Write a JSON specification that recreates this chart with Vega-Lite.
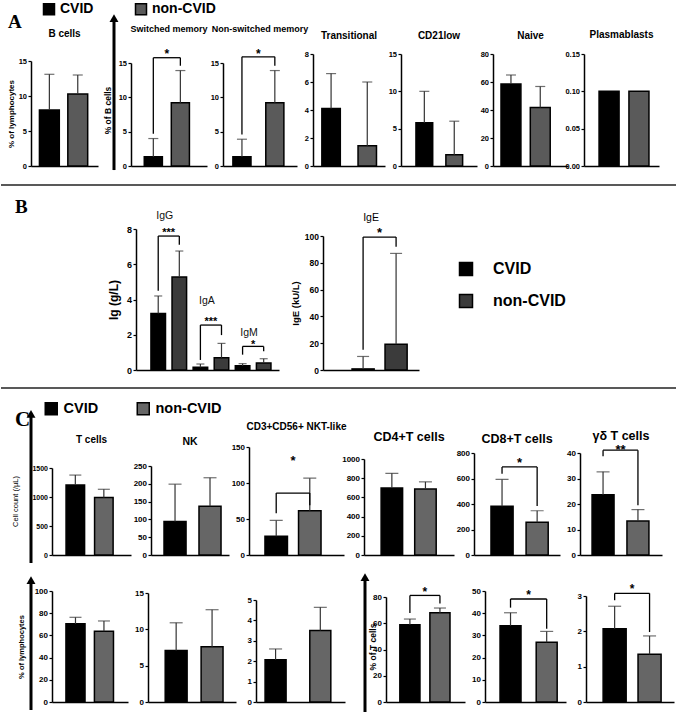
{
  "$schema": "https://vega.github.io/schema/vega-lite/v6.json",
  "padding": {"left": 0, "top": 2, "right": 0, "bottom": 0},
  "config": {
    "view": {"stroke": null},
    "font": "Liberation Sans",
    "axis": {"grid": false, "domainColor": "#000000", "domainWidth": 1.5, "tickColor": "#000000", "tickWidth": 1.2, "tickSize": 3, "labelColor": "#000000", "labelFont": "Liberation Sans", "labelFontWeight": "bold", "labelPadding": 1.5, "labelOverlap": false, "labelFlush": false, "labelBound": false, "titleColor": "#000000", "titleFont": "Liberation Sans", "titleFontWeight": "bold"},
    "axisX": {"labels": false, "ticks": false},
    "bar": {"stroke": "#000000", "strokeWidth": 1.5},
    "title": {"font": "Liberation Sans", "fontWeight": "bold", "color": "#000000", "baseline": "bottom", "frame": "group", "anchor": "middle"},
    "text": {"font": "Liberation Sans"}
  },
  "datasets": {
    "bars": [
      {"panel": "A1", "bar": "CVID", "group": "CVID", "mean": 8.0, "upper": 13.1},
      {"panel": "A1", "bar": "non-CVID", "group": "non-CVID", "mean": 10.3, "upper": 13.0},
      {"panel": "A2", "bar": "CVID", "group": "CVID", "mean": 1.35, "upper": 4.0},
      {"panel": "A2", "bar": "non-CVID", "group": "non-CVID", "mean": 9.2, "upper": 13.9},
      {"panel": "A3", "bar": "CVID", "group": "CVID", "mean": 1.35, "upper": 3.9},
      {"panel": "A3", "bar": "non-CVID", "group": "non-CVID", "mean": 9.2, "upper": 13.9},
      {"panel": "A4", "bar": "CVID", "group": "CVID", "mean": 4.1, "upper": 6.6},
      {"panel": "A4", "bar": "non-CVID", "group": "non-CVID", "mean": 1.45, "upper": 6.0},
      {"panel": "A5", "bar": "CVID", "group": "CVID", "mean": 5.8, "upper": 10.0},
      {"panel": "A5", "bar": "non-CVID", "group": "non-CVID", "mean": 1.5, "upper": 6.0},
      {"panel": "A6", "bar": "CVID", "group": "CVID", "mean": 58.5, "upper": 65.0},
      {"panel": "A6", "bar": "non-CVID", "group": "non-CVID", "mean": 41.8, "upper": 56.8},
      {"panel": "A7", "bar": "CVID", "group": "CVID", "mean": 0.1},
      {"panel": "A7", "bar": "non-CVID", "group": "non-CVID", "mean": 0.1},
      {"panel": "B1", "bar": "IgG CVID", "group": "CVID", "mean": 3.2, "upper": 4.2},
      {"panel": "B1", "bar": "IgG non-CVID", "group": "non-CVID", "mean": 5.27, "upper": 6.75},
      {"panel": "B1", "bar": "IgA CVID", "group": "CVID", "mean": 0.15, "upper": 0.34},
      {"panel": "B1", "bar": "IgA non-CVID", "group": "non-CVID", "mean": 0.7, "upper": 1.51},
      {"panel": "B1", "bar": "IgM CVID", "group": "CVID", "mean": 0.24, "upper": 0.36},
      {"panel": "B1", "bar": "IgM non-CVID", "group": "non-CVID", "mean": 0.4, "upper": 0.64},
      {"panel": "B2", "bar": "CVID", "group": "CVID", "mean": 0.8, "upper": 10.1},
      {"panel": "B2", "bar": "non-CVID", "group": "non-CVID", "mean": 19.2, "upper": 87},
      {"panel": "C1", "bar": "CVID", "group": "CVID", "mean": 1207, "upper": 1378},
      {"panel": "C1", "bar": "non-CVID", "group": "non-CVID", "mean": 990, "upper": 1133},
      {"panel": "C2", "bar": "CVID", "group": "CVID", "mean": 94, "upper": 199},
      {"panel": "C2", "bar": "non-CVID", "group": "non-CVID", "mean": 137, "upper": 217},
      {"panel": "C3", "bar": "CVID", "group": "CVID", "mean": 26, "upper": 48},
      {"panel": "C3", "bar": "non-CVID", "group": "non-CVID", "mean": 61.6, "upper": 106.7},
      {"panel": "C4", "bar": "CVID", "group": "CVID", "mean": 699, "upper": 851},
      {"panel": "C4", "bar": "non-CVID", "group": "non-CVID", "mean": 688, "upper": 762},
      {"panel": "C5", "bar": "CVID", "group": "CVID", "mean": 382, "upper": 593},
      {"panel": "C5", "bar": "non-CVID", "group": "non-CVID", "mean": 257, "upper": 347},
      {"panel": "C6", "bar": "CVID", "group": "CVID", "mean": 23.6, "upper": 32.6},
      {"panel": "C6", "bar": "non-CVID", "group": "non-CVID", "mean": 13.3, "upper": 17.8},
      {"panel": "D1", "bar": "CVID", "group": "CVID", "mean": 70.4, "upper": 76.3},
      {"panel": "D1", "bar": "non-CVID", "group": "non-CVID", "mean": 63.8, "upper": 73},
      {"panel": "D2", "bar": "CVID", "group": "CVID", "mean": 7.1, "upper": 10.9},
      {"panel": "D2", "bar": "non-CVID", "group": "non-CVID", "mean": 7.6, "upper": 12.7},
      {"panel": "D3", "bar": "CVID", "group": "CVID", "mean": 2.07, "upper": 2.6},
      {"panel": "D3", "bar": "non-CVID", "group": "non-CVID", "mean": 3.5, "upper": 4.64},
      {"panel": "D4", "bar": "CVID", "group": "CVID", "mean": 58.9, "upper": 63.2},
      {"panel": "D4", "bar": "non-CVID", "group": "non-CVID", "mean": 68, "upper": 71.6},
      {"panel": "D5", "bar": "CVID", "group": "CVID", "mean": 34.4, "upper": 40.2},
      {"panel": "D5", "bar": "non-CVID", "group": "non-CVID", "mean": 26.9, "upper": 31.8},
      {"panel": "D6", "bar": "CVID", "group": "CVID", "mean": 2.07, "upper": 2.71},
      {"panel": "D6", "bar": "non-CVID", "group": "non-CVID", "mean": 1.35, "upper": 1.87}
    ],
    "sig": [
      {"panel": "A2", "left": "CVID", "right": "non-CVID", "yb": 15.77, "yl": 4.7, "yr": 14.6, "ys": 16.8, "star": "*"},
      {"panel": "A3", "left": "CVID", "right": "non-CVID", "yb": 15.9, "yl": 4.6, "yr": 14.6, "ys": 16.8, "star": "*"},
      {"panel": "B1", "left": "IgG CVID", "right": "IgG non-CVID", "yb": 7.6, "yl": 4.5, "yr": 7.1, "ys": 7.96, "star": "***"},
      {"panel": "B1", "left": "IgA CVID", "right": "IgA non-CVID", "yb": 2.55, "yl": 0.57, "yr": 1.98, "ys": 2.89, "star": "***"},
      {"panel": "B1", "left": "IgM CVID", "right": "IgM non-CVID", "yb": 1.34, "yl": 0.87, "yr": 1.06, "ys": 1.59, "star": "*"},
      {"panel": "B2", "left": "CVID", "right": "non-CVID", "yb": 99.2, "yl": 15.2, "yr": 92, "ys": 104.8, "star": "*"},
      {"panel": "C3", "left": "CVID", "right": "non-CVID", "yb": 86, "yl": 58, "yr": 69, "ys": 135, "star": "*"},
      {"panel": "C5", "left": "CVID", "right": "non-CVID", "yb": 691, "yl": 637, "yr": 385, "ys": 745, "star": "*"},
      {"panel": "C6", "left": "CVID", "right": "non-CVID", "yb": 41.1, "yl": 38.7, "yr": 19.5, "ys": 42.5, "star": "**"},
      {"panel": "D4", "left": "CVID", "right": "non-CVID", "yb": 81.2, "yl": 67.8, "yr": 75, "ys": 86.3, "star": "*"},
      {"panel": "D5", "left": "CVID", "right": "non-CVID", "yb": 46.4, "yl": 42.5, "yr": 33, "ys": 49.5, "star": "*"},
      {"panel": "D6", "left": "CVID", "right": "non-CVID", "yb": 3.075, "yl": 2.88, "yr": 1.98, "ys": 3.29, "star": "*"}
    ],
    "iglab": [
      {"bar": "IgG CVID", "label": "IgG", "y": 8.73},
      {"bar": "IgA CVID", "label": "IgA", "y": 3.9},
      {"bar": "IgM CVID", "label": "IgM", "y": 2.1}
    ]
  },
  "spacing": 12,
  "resolve": {"scale": {"color": "independent"}},
  "vconcat": [
    {
      "hconcat": [
        {"width": 67, "height": 112, "title": {"text": "B cells", "fontSize": 10, "offset": 14.7},
         "layer": [
          {"data": {"name": "bars"}, "transform": [{"filter": "datum.panel === 'A1'"}],
           "encoding": {
             "x": {"field": "bar", "type": "nominal", "title": null, "scale": {"domain": ["CVID", "non-CVID"], "paddingInner": 0.3, "paddingOuter": 0.33, "align": 0.45}},
             "y": {"field": "mean", "type": "quantitative", "title": "% of lymphocytes", "scale": {"domain": [0, 15], "nice": false, "range": [112, 7]}, "axis": {"values": [0, 5, 10, 15], "labelOverlap": false, "labelFontSize": 7.5, "titleFontSize": 8, "titlePadding": 3}}},
           "layer": [
             {"mark": "bar", "encoding": {"color": {"field": "group", "type": "nominal", "scale": {"domain": ["CVID", "non-CVID"], "range": ["#000000", "#5a5a5a"]}, "legend": {"orient": "none", "legendX": -23, "legendY": -52, "direction": "horizontal", "columns": 2, "title": "A", "titleOrient": "left", "titleFont": "Liberation Serif", "titleFontSize": 19, "titleFontWeight": "bold", "titleColor": "#000000", "titlePadding": 20, "titleBaseline": "line-top", "titleLineHeight": 25, "labelFont": "Liberation Sans", "labelFontSize": 14, "labelFontWeight": "bold", "labelColor": "#000000", "labelOffset": 4, "columnPadding": 38, "symbolType": "square", "symbolSize": 121, "symbolStrokeColor": "#000000", "symbolStrokeWidth": 1}}}},
             {"mark": {"type": "rule", "color": "#333333", "strokeWidth": 1.2}, "encoding": {"y": {"field": "upper", "type": "quantitative", "title": "% of lymphocytes"}, "y2": {"field": "mean"}}},
             {"mark": {"type": "tick", "orient": "horizontal", "size": 10, "color": "#333333", "thickness": 1.2}, "encoding": {"y": {"field": "upper", "type": "quantitative", "title": "% of lymphocytes"}}}
           ]}
         ]},
        {"width": 1, "height": 112, "data": {"values": [{"k": 1}]},
         "encoding": {"x": {"datum": 0, "type": "quantitative", "scale": {"domain": [0, 1]}, "axis": null}},
         "layer": [
           {"mark": {"type": "rule", "color": "#000000", "strokeWidth": 3}, "encoding": {"y": {"datum": -0.036, "type": "quantitative", "scale": {"domain": [0, 1], "nice": false}, "axis": {"title": "% of B cells", "labels": false, "ticks": false, "domain": false, "titleFontSize": 8.5, "titlePadding": 2}}, "y2": {"datum": 1.32}}},
           {"mark": {"type": "point", "shape": "triangle-up", "filled": true, "color": "#000000", "size": 80, "opacity": 1}, "encoding": {"y": {"datum": 1.32, "type": "quantitative"}}}
         ]},
        {"width": 76, "height": 112, "title": {"text": "Switched memory", "fontSize": 9, "offset": 13.2},
         "layer": [
          {"data": {"name": "bars"}, "transform": [{"filter": "datum.panel === 'A2'"}],
           "encoding": {
             "x": {"field": "bar", "type": "nominal", "title": null, "scale": {"domain": ["CVID", "non-CVID"], "paddingInner": 0.33, "paddingOuter": 0.57, "align": 0.43}},
             "y": {"field": "mean", "type": "quantitative", "title": null, "scale": {"domain": [0, 15], "nice": false, "range": [112, 9]}, "axis": {"values": [0, 5, 10, 15], "labelOverlap": false, "labelFontSize": 7.5}}},
           "layer": [
             {"mark": "bar", "encoding": {"color": {"field": "group", "type": "nominal", "scale": {"domain": ["CVID", "non-CVID"], "range": ["#000000", "#5a5a5a"]}, "legend": {"orient": "none", "legendX": -23, "legendY": -52, "direction": "horizontal", "columns": 2, "title": "A", "titleOrient": "left", "titleFont": "Liberation Serif", "titleFontSize": 19, "titleFontWeight": "bold", "titleColor": "#000000", "titlePadding": 20, "titleBaseline": "line-top", "titleLineHeight": 25, "labelFont": "Liberation Sans", "labelFontSize": 14, "labelFontWeight": "bold", "labelColor": "#000000", "labelOffset": 4, "columnPadding": 38, "symbolType": "square", "symbolSize": 121, "symbolStrokeColor": "#000000", "symbolStrokeWidth": 1}}}},
             {"mark": {"type": "rule", "color": "#333333", "strokeWidth": 1.2}, "encoding": {"y": {"field": "upper", "type": "quantitative", "title": null}, "y2": {"field": "mean"}}},
             {"mark": {"type": "tick", "orient": "horizontal", "size": 10, "color": "#333333", "thickness": 1.2}, "encoding": {"y": {"field": "upper", "type": "quantitative", "title": null}}}
           ]},
          {"data": {"name": "sig"}, "transform": [{"filter": "datum.panel === 'A2'"}],
           "encoding": {"x": {"field": "left", "type": "nominal", "title": null}},
           "layer": [
             {"mark": {"type": "rule", "color": "#000000", "strokeWidth": 1.3}, "encoding": {"x2": {"field": "right"}, "y": {"field": "yb", "type": "quantitative", "title": null, "axis": {"values": [0, 5, 10, 15], "labelOverlap": false, "labelFontSize": 7.5}}}},
             {"mark": {"type": "rule", "color": "#000000", "strokeWidth": 1.3}, "encoding": {"y": {"field": "yl", "type": "quantitative", "title": null, "axis": {"values": [0, 5, 10, 15], "labelOverlap": false, "labelFontSize": 7.5}}, "y2": {"field": "yb"}}},
             {"mark": {"type": "rule", "color": "#000000", "strokeWidth": 1.3}, "encoding": {"x": {"field": "right", "type": "nominal", "title": null}, "y": {"field": "yr", "type": "quantitative", "title": null, "axis": {"values": [0, 5, 10, 15], "labelOverlap": false, "labelFontSize": 7.5}}, "y2": {"field": "yb"}}},
             {"mark": {"type": "text", "fontSize": 12, "fontWeight": "bold", "dx": 13.5, "dy": 3, "baseline": "middle", "color": "#000000"}, "encoding": {"y": {"field": "ys", "type": "quantitative", "title": null, "axis": {"values": [0, 5, 10, 15], "labelOverlap": false, "labelFontSize": 7.5}}, "text": {"field": "star"}}}
           ]}
         ]},
        {"width": 74, "height": 112, "title": {"text": "Non-switched memory", "fontSize": 9, "offset": 13.2},
         "layer": [
          {"data": {"name": "bars"}, "transform": [{"filter": "datum.panel === 'A3'"}],
           "encoding": {
             "x": {"field": "bar", "type": "nominal", "title": null, "scale": {"domain": ["CVID", "non-CVID"], "paddingInner": 0.45, "paddingOuter": 0.35, "align": 0.43}},
             "y": {"field": "mean", "type": "quantitative", "title": null, "scale": {"domain": [0, 15], "nice": false, "range": [112, 9]}, "axis": {"values": [0, 5, 10, 15], "labelOverlap": false, "labelFontSize": 7.5}}},
           "layer": [
             {"mark": "bar", "encoding": {"color": {"field": "group", "type": "nominal", "scale": {"domain": ["CVID", "non-CVID"], "range": ["#000000", "#5a5a5a"]}, "legend": {"orient": "none", "legendX": -23, "legendY": -52, "direction": "horizontal", "columns": 2, "title": "A", "titleOrient": "left", "titleFont": "Liberation Serif", "titleFontSize": 19, "titleFontWeight": "bold", "titleColor": "#000000", "titlePadding": 20, "titleBaseline": "line-top", "titleLineHeight": 25, "labelFont": "Liberation Sans", "labelFontSize": 14, "labelFontWeight": "bold", "labelColor": "#000000", "labelOffset": 4, "columnPadding": 38, "symbolType": "square", "symbolSize": 121, "symbolStrokeColor": "#000000", "symbolStrokeWidth": 1}}}},
             {"mark": {"type": "rule", "color": "#333333", "strokeWidth": 1.2}, "encoding": {"y": {"field": "upper", "type": "quantitative", "title": null}, "y2": {"field": "mean"}}},
             {"mark": {"type": "tick", "orient": "horizontal", "size": 10, "color": "#333333", "thickness": 1.2}, "encoding": {"y": {"field": "upper", "type": "quantitative", "title": null}}}
           ]},
          {"data": {"name": "sig"}, "transform": [{"filter": "datum.panel === 'A3'"}],
           "encoding": {"x": {"field": "left", "type": "nominal", "title": null}},
           "layer": [
             {"mark": {"type": "rule", "color": "#000000", "strokeWidth": 1.3}, "encoding": {"x2": {"field": "right"}, "y": {"field": "yb", "type": "quantitative", "title": null, "axis": {"values": [0, 5, 10, 15], "labelOverlap": false, "labelFontSize": 7.5}}}},
             {"mark": {"type": "rule", "color": "#000000", "strokeWidth": 1.3}, "encoding": {"y": {"field": "yl", "type": "quantitative", "title": null, "axis": {"values": [0, 5, 10, 15], "labelOverlap": false, "labelFontSize": 7.5}}, "y2": {"field": "yb"}}},
             {"mark": {"type": "rule", "color": "#000000", "strokeWidth": 1.3}, "encoding": {"x": {"field": "right", "type": "nominal", "title": null}, "y": {"field": "yr", "type": "quantitative", "title": null, "axis": {"values": [0, 5, 10, 15], "labelOverlap": false, "labelFontSize": 7.5}}, "y2": {"field": "yb"}}},
             {"mark": {"type": "text", "fontSize": 12, "fontWeight": "bold", "dx": 16.5, "dy": 3, "baseline": "middle", "color": "#000000"}, "encoding": {"y": {"field": "ys", "type": "quantitative", "title": null, "axis": {"values": [0, 5, 10, 15], "labelOverlap": false, "labelFontSize": 7.5}}, "text": {"field": "star"}}}
           ]}
         ]},
        {"width": 72, "height": 112, "title": {"text": "Transitional", "fontSize": 10, "offset": 9},
         "layer": [
          {"data": {"name": "bars"}, "transform": [{"filter": "datum.panel === 'A4'"}],
           "encoding": {
             "x": {"field": "bar", "type": "nominal", "title": null, "scale": {"domain": ["CVID", "non-CVID"], "paddingInner": 0.49, "paddingOuter": 0.24, "align": 0.51}},
             "y": {"field": "mean", "type": "quantitative", "title": null, "scale": {"domain": [0, 8], "nice": false, "range": [112, 0]}, "axis": {"values": [0, 2, 4, 6, 8], "labelOverlap": false, "labelFontSize": 7.5}}},
           "layer": [
             {"mark": "bar", "encoding": {"color": {"field": "group", "type": "nominal", "scale": {"domain": ["CVID", "non-CVID"], "range": ["#000000", "#5a5a5a"]}, "legend": {"orient": "none", "legendX": -23, "legendY": -52, "direction": "horizontal", "columns": 2, "title": "A", "titleOrient": "left", "titleFont": "Liberation Serif", "titleFontSize": 19, "titleFontWeight": "bold", "titleColor": "#000000", "titlePadding": 20, "titleBaseline": "line-top", "titleLineHeight": 25, "labelFont": "Liberation Sans", "labelFontSize": 14, "labelFontWeight": "bold", "labelColor": "#000000", "labelOffset": 4, "columnPadding": 38, "symbolType": "square", "symbolSize": 121, "symbolStrokeColor": "#000000", "symbolStrokeWidth": 1}}}},
             {"mark": {"type": "rule", "color": "#333333", "strokeWidth": 1.2}, "encoding": {"y": {"field": "upper", "type": "quantitative", "title": null}, "y2": {"field": "mean"}}},
             {"mark": {"type": "tick", "orient": "horizontal", "size": 10, "color": "#333333", "thickness": 1.2}, "encoding": {"y": {"field": "upper", "type": "quantitative", "title": null}}}
           ]}
         ]},
        {"width": 76, "height": 112, "title": {"text": "CD21low", "fontSize": 10, "offset": 9},
         "layer": [
          {"data": {"name": "bars"}, "transform": [{"filter": "datum.panel === 'A5'"}],
           "encoding": {
             "x": {"field": "bar", "type": "nominal", "title": null, "scale": {"domain": ["CVID", "non-CVID"], "paddingInner": 0.44, "paddingOuter": 0.49, "align": 0.51}},
             "y": {"field": "mean", "type": "quantitative", "title": null, "scale": {"domain": [0, 15], "nice": false, "range": [112, 0]}, "axis": {"values": [0, 5, 10, 15], "labelOverlap": false, "labelFontSize": 7.5}}},
           "layer": [
             {"mark": "bar", "encoding": {"color": {"field": "group", "type": "nominal", "scale": {"domain": ["CVID", "non-CVID"], "range": ["#000000", "#5a5a5a"]}, "legend": {"orient": "none", "legendX": -23, "legendY": -52, "direction": "horizontal", "columns": 2, "title": "A", "titleOrient": "left", "titleFont": "Liberation Serif", "titleFontSize": 19, "titleFontWeight": "bold", "titleColor": "#000000", "titlePadding": 20, "titleBaseline": "line-top", "titleLineHeight": 25, "labelFont": "Liberation Sans", "labelFontSize": 14, "labelFontWeight": "bold", "labelColor": "#000000", "labelOffset": 4, "columnPadding": 38, "symbolType": "square", "symbolSize": 121, "symbolStrokeColor": "#000000", "symbolStrokeWidth": 1}}}},
             {"mark": {"type": "rule", "color": "#333333", "strokeWidth": 1.2}, "encoding": {"y": {"field": "upper", "type": "quantitative", "title": null}, "y2": {"field": "mean"}}},
             {"mark": {"type": "tick", "orient": "horizontal", "size": 10, "color": "#333333", "thickness": 1.2}, "encoding": {"y": {"field": "upper", "type": "quantitative", "title": null}}}
           ]}
         ]},
        {"width": 75, "height": 112, "title": {"text": "Naive", "fontSize": 10, "offset": 9},
         "layer": [
          {"data": {"name": "bars"}, "transform": [{"filter": "datum.panel === 'A6'"}],
           "encoding": {
             "x": {"field": "bar", "type": "nominal", "title": null, "scale": {"domain": ["CVID", "non-CVID"], "paddingInner": 0.32, "paddingOuter": 0.44, "align": 0.31}},
             "y": {"field": "mean", "type": "quantitative", "title": null, "scale": {"domain": [0, 80], "nice": false, "range": [112, 0]}, "axis": {"values": [0, 20, 40, 60, 80], "labelOverlap": false, "labelFontSize": 7.5}}},
           "layer": [
             {"mark": "bar", "encoding": {"color": {"field": "group", "type": "nominal", "scale": {"domain": ["CVID", "non-CVID"], "range": ["#000000", "#5a5a5a"]}, "legend": {"orient": "none", "legendX": -23, "legendY": -52, "direction": "horizontal", "columns": 2, "title": "A", "titleOrient": "left", "titleFont": "Liberation Serif", "titleFontSize": 19, "titleFontWeight": "bold", "titleColor": "#000000", "titlePadding": 20, "titleBaseline": "line-top", "titleLineHeight": 25, "labelFont": "Liberation Sans", "labelFontSize": 14, "labelFontWeight": "bold", "labelColor": "#000000", "labelOffset": 4, "columnPadding": 38, "symbolType": "square", "symbolSize": 121, "symbolStrokeColor": "#000000", "symbolStrokeWidth": 1}}}},
             {"mark": {"type": "rule", "color": "#333333", "strokeWidth": 1.2}, "encoding": {"y": {"field": "upper", "type": "quantitative", "title": null}, "y2": {"field": "mean"}}},
             {"mark": {"type": "tick", "orient": "horizontal", "size": 10, "color": "#333333", "thickness": 1.2}, "encoding": {"y": {"field": "upper", "type": "quantitative", "title": null}}}
           ]}
         ]},
        {"width": 75, "height": 112, "title": {"text": "Plasmablasts", "fontSize": 10, "offset": 10},
         "layer": [
          {"data": {"name": "bars"}, "transform": [{"filter": "datum.panel === 'A7'"}],
           "encoding": {
             "x": {"field": "bar", "type": "nominal", "title": null, "scale": {"domain": ["CVID", "non-CVID"], "paddingInner": 0.33, "paddingOuter": 0.42, "align": 0.6}},
             "y": {"field": "mean", "type": "quantitative", "title": null, "scale": {"domain": [0, 0.15], "nice": false, "range": [112, 0]}, "axis": {"values": [0, 0.05, 0.1, 0.15], "labelOverlap": false, "format": ".2f", "labelFontSize": 7.5}}},
           "layer": [
             {"mark": "bar", "encoding": {"color": {"field": "group", "type": "nominal", "scale": {"domain": ["CVID", "non-CVID"], "range": ["#000000", "#5a5a5a"]}, "legend": {"orient": "none", "legendX": -23, "legendY": -52, "direction": "horizontal", "columns": 2, "title": "A", "titleOrient": "left", "titleFont": "Liberation Serif", "titleFontSize": 19, "titleFontWeight": "bold", "titleColor": "#000000", "titlePadding": 20, "titleBaseline": "line-top", "titleLineHeight": 25, "labelFont": "Liberation Sans", "labelFontSize": 14, "labelFontWeight": "bold", "labelColor": "#000000", "labelOffset": 4, "columnPadding": 38, "symbolType": "square", "symbolSize": 121, "symbolStrokeColor": "#000000", "symbolStrokeWidth": 1}}}}
           ]}
         ]}
      ],
      "spacing": 16,
      "bounds": "flush",
      "resolve": {"scale": {"color": "shared"}}
    },
    {"width": 646, "height": 1, "data": {"values": [{"k": 1}]}, "mark": {"type": "rule", "color": "#222222", "strokeWidth": 1.5},
     "encoding": {"x": {"datum": -0.0465, "type": "quantitative", "scale": {"domain": [0, 1], "nice": false, "zero": false}, "axis": null}, "x2": {"datum": 1}, "y": {"datum": 0, "type": "quantitative", "scale": {"domain": [0, 1]}, "axis": null}}},
    {
      "title": {"text": "B", "font": "Liberation Serif", "fontSize": 19, "fontWeight": "bold", "anchor": "start", "offset": -6, "dx": -16},
      "hconcat": [
        {"width": 61, "height": 1, "data": {"values": []}, "mark": "point"},
        {"width": 143, "height": 141,
         "layer": [
          {"data": {"name": "bars"}, "transform": [{"filter": "datum.panel === 'B1'"}],
           "encoding": {
             "x": {"field": "bar", "type": "nominal", "title": null, "scale": {"domain": ["IgG CVID", "IgG non-CVID", "IgA CVID", "IgA non-CVID", "IgM CVID", "IgM non-CVID"], "paddingInner": 0.31, "paddingOuter": 0.545, "align": 0.65}},
             "y": {"field": "mean", "type": "quantitative", "title": "Ig (g/L)", "scale": {"domain": [0, 8], "nice": false, "range": [141, 0]}, "axis": {"values": [0, 2, 4, 6, 8], "labelOverlap": false, "labelFontSize": 9, "titleFontSize": 12, "titlePadding": 6}}},
           "layer": [
             {"mark": "bar", "encoding": {"color": {"field": "group", "type": "nominal", "scale": {"domain": ["CVID", "non-CVID"], "range": ["#000000", "#3b3b3b"]}, "legend": {"orient": "none", "legendX": 427, "legendY": 32, "direction": "vertical", "title": null, "labelFont": "Liberation Sans", "labelFontSize": 16, "labelFontWeight": "bold", "labelColor": "#000000", "labelOffset": 19, "rowPadding": 12, "symbolType": "square", "symbolSize": 169, "symbolStrokeColor": "#000000", "symbolStrokeWidth": 1}}}},
             {"mark": {"type": "rule", "color": "#333333", "strokeWidth": 1.2}, "encoding": {"y": {"field": "upper", "type": "quantitative", "title": "Ig (g/L)"}, "y2": {"field": "mean"}}},
             {"mark": {"type": "tick", "orient": "horizontal", "size": 8, "color": "#333333", "thickness": 1.2}, "encoding": {"y": {"field": "upper", "type": "quantitative", "title": "Ig (g/L)"}}}
           ]},
          {"data": {"name": "sig"}, "transform": [{"filter": "datum.panel === 'B1'"}],
           "encoding": {"x": {"field": "left", "type": "nominal", "title": null}},
           "layer": [
             {"mark": {"type": "rule", "color": "#000000", "strokeWidth": 1.3}, "encoding": {"x2": {"field": "right"}, "y": {"field": "yb", "type": "quantitative", "title": "Ig (g/L)", "axis": {"values": [0, 2, 4, 6, 8], "labelOverlap": false, "labelFontSize": 9, "titleFontSize": 12, "titlePadding": 6}}}},
             {"mark": {"type": "rule", "color": "#000000", "strokeWidth": 1.3}, "encoding": {"y": {"field": "yl", "type": "quantitative", "title": "Ig (g/L)", "axis": {"values": [0, 2, 4, 6, 8], "labelOverlap": false, "labelFontSize": 9, "titleFontSize": 12, "titlePadding": 6}}, "y2": {"field": "yb"}}},
             {"mark": {"type": "rule", "color": "#000000", "strokeWidth": 1.3}, "encoding": {"x": {"field": "right", "type": "nominal", "title": null}, "y": {"field": "yr", "type": "quantitative", "title": "Ig (g/L)", "axis": {"values": [0, 2, 4, 6, 8], "labelOverlap": false, "labelFontSize": 9, "titleFontSize": 12, "titlePadding": 6}}, "y2": {"field": "yb"}}},
             {"mark": {"type": "text", "fontSize": 11, "fontWeight": "bold", "dx": 10.5, "dy": 3, "baseline": "middle", "color": "#000000"}, "encoding": {"y": {"field": "ys", "type": "quantitative", "title": "Ig (g/L)", "axis": {"values": [0, 2, 4, 6, 8], "labelOverlap": false, "labelFontSize": 9, "titleFontSize": 12, "titlePadding": 6}}, "text": {"field": "star"}}}
           ]},
          {"data": {"name": "iglab"},
           "mark": {"type": "text", "fontSize": 10.5, "dx": 6.5, "baseline": "middle", "color": "#111111"},
           "encoding": {"x": {"field": "bar", "type": "nominal", "title": null}, "y": {"field": "y", "type": "quantitative", "title": "Ig (g/L)", "axis": {"values": [0, 2, 4, 6, 8], "labelOverlap": false, "labelFontSize": 9, "titleFontSize": 12, "titlePadding": 6}}, "text": {"field": "label"}}}
         ]},
        {"width": 96, "height": 141, "title": {"text": "IgE", "fontSize": 10.5, "fontWeight": "normal", "offset": 3.2},
         "layer": [
          {"data": {"name": "bars"}, "transform": [{"filter": "datum.panel === 'B2'"}],
           "encoding": {
             "x": {"field": "bar", "type": "nominal", "title": null, "scale": {"domain": ["CVID", "non-CVID"], "paddingInner": 0.33, "paddingOuter": 0.62, "align": 0.71}},
             "y": {"field": "mean", "type": "quantitative", "title": "IgE (kU/L)", "scale": {"domain": [0, 100], "nice": false, "range": [141, 7]}, "axis": {"values": [0, 20, 40, 60, 80, 100], "labelOverlap": false, "labelFontSize": 8.5, "titleFontSize": 9.5, "titlePadding": 4}}},
           "layer": [
             {"mark": "bar", "encoding": {"color": {"field": "group", "type": "nominal", "scale": {"domain": ["CVID", "non-CVID"], "range": ["#000000", "#3b3b3b"]}, "legend": {"orient": "none", "legendX": 427, "legendY": 32, "direction": "vertical", "title": null, "labelFont": "Liberation Sans", "labelFontSize": 16, "labelFontWeight": "bold", "labelColor": "#000000", "labelOffset": 19, "rowPadding": 12, "symbolType": "square", "symbolSize": 169, "symbolStrokeColor": "#000000", "symbolStrokeWidth": 1}}}},
             {"mark": {"type": "rule", "color": "#333333", "strokeWidth": 1.2}, "encoding": {"y": {"field": "upper", "type": "quantitative", "title": "IgE (kU/L)"}, "y2": {"field": "mean"}}},
             {"mark": {"type": "tick", "orient": "horizontal", "size": 12, "color": "#333333", "thickness": 1.2}, "encoding": {"y": {"field": "upper", "type": "quantitative", "title": "IgE (kU/L)"}}}
           ]},
          {"data": {"name": "sig"}, "transform": [{"filter": "datum.panel === 'B2'"}],
           "encoding": {"x": {"field": "left", "type": "nominal", "title": null}},
           "layer": [
             {"mark": {"type": "rule", "color": "#000000", "strokeWidth": 1.3}, "encoding": {"x2": {"field": "right"}, "y": {"field": "yb", "type": "quantitative", "title": "IgE (kU/L)", "axis": {"values": [0, 20, 40, 60, 80, 100], "labelOverlap": false, "labelFontSize": 8.5, "titleFontSize": 9.5, "titlePadding": 4}}}},
             {"mark": {"type": "rule", "color": "#000000", "strokeWidth": 1.3}, "encoding": {"y": {"field": "yl", "type": "quantitative", "title": "IgE (kU/L)", "axis": {"values": [0, 20, 40, 60, 80, 100], "labelOverlap": false, "labelFontSize": 8.5, "titleFontSize": 9.5, "titlePadding": 4}}, "y2": {"field": "yb"}}},
             {"mark": {"type": "rule", "color": "#000000", "strokeWidth": 1.3}, "encoding": {"x": {"field": "right", "type": "nominal", "title": null}, "y": {"field": "yr", "type": "quantitative", "title": "IgE (kU/L)", "axis": {"values": [0, 20, 40, 60, 80, 100], "labelOverlap": false, "labelFontSize": 8.5, "titleFontSize": 9.5, "titlePadding": 4}}, "y2": {"field": "yb"}}},
             {"mark": {"type": "text", "fontSize": 13, "fontWeight": "bold", "dx": 16.5, "dy": 3, "baseline": "middle", "color": "#000000"}, "encoding": {"y": {"field": "ys", "type": "quantitative", "title": "IgE (kU/L)", "axis": {"values": [0, 20, 40, 60, 80, 100], "labelOverlap": false, "labelFontSize": 8.5, "titleFontSize": 9.5, "titlePadding": 4}}, "text": {"field": "star"}}}
           ]}
         ]}
      ],
      "spacing": 44,
      "bounds": "flush",
      "resolve": {"scale": {"color": "shared"}}
    },
    {"width": 646, "height": 1, "data": {"values": [{"k": 1}]}, "mark": {"type": "rule", "color": "#222222", "strokeWidth": 1.5},
     "encoding": {"x": {"datum": -0.0465, "type": "quantitative", "scale": {"domain": [0, 1], "nice": false, "zero": false}, "axis": null}, "x2": {"datum": 1}, "y": {"datum": 0, "type": "quantitative", "scale": {"domain": [0, 1]}, "axis": null}}},
    {
      "spacing": 8,
      "resolve": {"scale": {"color": "shared"}},
      "vconcat": [
        {
          "spacing": 20,
          "bounds": "flush",
          "hconcat": [
            {"width": 1, "height": 108, "data": {"values": [{"k": 1}]},
             "encoding": {"x": {"datum": 0, "type": "quantitative", "scale": {"domain": [0, 1]}, "axis": null}},
             "layer": [
               {"mark": {"type": "rule", "color": "#000000", "strokeWidth": 3}, "encoding": {"y": {"datum": -0.074, "type": "quantitative", "scale": {"domain": [0, 1], "nice": false}, "axis": {"title": "Cell count (/µL)", "labels": false, "ticks": false, "domain": false, "titleFontSize": 7.5, "titleFontWeight": "normal", "titlePadding": 12}}, "y2": {"datum": 1.306}}},
               {"mark": {"type": "point", "shape": "triangle-up", "filled": true, "color": "#000000", "size": 80, "opacity": 1}, "encoding": {"y": {"datum": 1.306, "type": "quantitative"}}}
             ]},
            {"width": 79, "height": 108, "title": {"text": "T cells", "fontSize": 10, "offset": 1.7},
             "layer": [
              {"data": {"name": "bars"}, "transform": [{"filter": "datum.panel === 'C1'"}],
               "encoding": {
                 "x": {"field": "bar", "type": "nominal", "title": null, "scale": {"domain": ["CVID", "non-CVID"], "paddingInner": 0.35, "paddingOuter": 0.56, "align": 0.44}},
                 "y": {"field": "mean", "type": "quantitative", "title": null, "scale": {"domain": [0, 1500], "nice": false, "range": [108, 21]}, "axis": {"values": [0, 500, 1000, 1500], "labelOverlap": false, "format": "d", "labelFontSize": 7}}},
               "layer": [
                 {"mark": "bar", "encoding": {"color": {"field": "group", "type": "nominal", "scale": {"domain": ["CVID", "non-CVID"], "range": ["#000000", "#666666"]}, "legend": {"orient": "none", "legendX": -16, "legendY": -46, "direction": "horizontal", "columns": 2, "title": "C", "titleOrient": "left", "titleFont": "Liberation Serif", "titleFontSize": 21, "titleFontWeight": "bold", "titleColor": "#000000", "titlePadding": 13, "titleBaseline": "line-top", "titleLineHeight": 21, "labelFont": "Liberation Sans", "labelFontSize": 14.5, "labelFontWeight": "bold", "labelColor": "#000000", "labelOffset": 5, "columnPadding": 35, "symbolType": "square", "symbolSize": 144, "symbolStrokeColor": "#000000", "symbolStrokeWidth": 1}}}},
                 {"mark": {"type": "rule", "color": "#333333", "strokeWidth": 1.2}, "encoding": {"y": {"field": "upper", "type": "quantitative", "title": null}, "y2": {"field": "mean"}}},
                 {"mark": {"type": "tick", "orient": "horizontal", "size": 12, "color": "#333333", "thickness": 1.2}, "encoding": {"y": {"field": "upper", "type": "quantitative", "title": null}}}
               ]}
             ]},
            {"width": 78, "height": 108, "title": {"text": "NK", "fontSize": 10.5, "offset": 0},
             "layer": [
              {"data": {"name": "bars"}, "transform": [{"filter": "datum.panel === 'C2'"}],
               "encoding": {
                 "x": {"field": "bar", "type": "nominal", "title": null, "scale": {"domain": ["CVID", "non-CVID"], "paddingInner": 0.37, "paddingOuter": 0.3, "align": 0.62}},
                 "y": {"field": "mean", "type": "quantitative", "title": null, "scale": {"domain": [0, 250], "nice": false, "range": [108, 19]}, "axis": {"values": [0, 50, 100, 150, 200, 250], "labelOverlap": false, "labelFontSize": 8}}},
               "layer": [
                 {"mark": "bar", "encoding": {"color": {"field": "group", "type": "nominal", "scale": {"domain": ["CVID", "non-CVID"], "range": ["#000000", "#666666"]}, "legend": {"orient": "none", "legendX": -16, "legendY": -46, "direction": "horizontal", "columns": 2, "title": "C", "titleOrient": "left", "titleFont": "Liberation Serif", "titleFontSize": 21, "titleFontWeight": "bold", "titleColor": "#000000", "titlePadding": 13, "titleBaseline": "line-top", "titleLineHeight": 21, "labelFont": "Liberation Sans", "labelFontSize": 14.5, "labelFontWeight": "bold", "labelColor": "#000000", "labelOffset": 5, "columnPadding": 35, "symbolType": "square", "symbolSize": 144, "symbolStrokeColor": "#000000", "symbolStrokeWidth": 1}}}},
                 {"mark": {"type": "rule", "color": "#333333", "strokeWidth": 1.2}, "encoding": {"y": {"field": "upper", "type": "quantitative", "title": null}, "y2": {"field": "mean"}}},
                 {"mark": {"type": "tick", "orient": "horizontal", "size": 13, "color": "#333333", "thickness": 1.2}, "encoding": {"y": {"field": "upper", "type": "quantitative", "title": null}}}
               ]}
             ]},
            {"width": 95, "height": 108, "title": {"text": "CD3+CD56+ NKT-like", "fontSize": 10, "offset": 10.7},
             "layer": [
              {"data": {"name": "bars"}, "transform": [{"filter": "datum.panel === 'C3'"}],
               "encoding": {
                 "x": {"field": "bar", "type": "nominal", "title": null, "scale": {"domain": ["CVID", "non-CVID"], "paddingInner": 0.33, "paddingOuter": 0.58, "align": 0.41}},
                 "y": {"field": "mean", "type": "quantitative", "title": null, "scale": {"domain": [0, 150], "nice": false, "range": [108, 0]}, "axis": {"values": [0, 50, 100, 150], "labelOverlap": false, "labelFontSize": 8}}},
               "layer": [
                 {"mark": "bar", "encoding": {"color": {"field": "group", "type": "nominal", "scale": {"domain": ["CVID", "non-CVID"], "range": ["#000000", "#666666"]}, "legend": {"orient": "none", "legendX": -16, "legendY": -46, "direction": "horizontal", "columns": 2, "title": "C", "titleOrient": "left", "titleFont": "Liberation Serif", "titleFontSize": 21, "titleFontWeight": "bold", "titleColor": "#000000", "titlePadding": 13, "titleBaseline": "line-top", "titleLineHeight": 21, "labelFont": "Liberation Sans", "labelFontSize": 14.5, "labelFontWeight": "bold", "labelColor": "#000000", "labelOffset": 5, "columnPadding": 35, "symbolType": "square", "symbolSize": 144, "symbolStrokeColor": "#000000", "symbolStrokeWidth": 1}}}},
                 {"mark": {"type": "rule", "color": "#333333", "strokeWidth": 1.2}, "encoding": {"y": {"field": "upper", "type": "quantitative", "title": null}, "y2": {"field": "mean"}}},
                 {"mark": {"type": "tick", "orient": "horizontal", "size": 13, "color": "#333333", "thickness": 1.2}, "encoding": {"y": {"field": "upper", "type": "quantitative", "title": null}}}
               ]},
              {"data": {"name": "sig"}, "transform": [{"filter": "datum.panel === 'C3'"}],
               "encoding": {"x": {"field": "left", "type": "nominal", "title": null}},
               "layer": [
                 {"mark": {"type": "rule", "color": "#000000", "strokeWidth": 1.3}, "encoding": {"x2": {"field": "right"}, "y": {"field": "yb", "type": "quantitative", "title": null, "axis": {"values": [0, 50, 100, 150], "labelOverlap": false, "labelFontSize": 8}}}},
                 {"mark": {"type": "rule", "color": "#000000", "strokeWidth": 1.3}, "encoding": {"y": {"field": "yl", "type": "quantitative", "title": null, "axis": {"values": [0, 50, 100, 150], "labelOverlap": false, "labelFontSize": 8}}, "y2": {"field": "yb"}}},
                 {"mark": {"type": "rule", "color": "#000000", "strokeWidth": 1.3}, "encoding": {"x": {"field": "right", "type": "nominal", "title": null}, "y": {"field": "yr", "type": "quantitative", "title": null, "axis": {"values": [0, 50, 100, 150], "labelOverlap": false, "labelFontSize": 8}}, "y2": {"field": "yb"}}},
                 {"mark": {"type": "text", "fontSize": 13, "fontWeight": "bold", "dx": 16.8, "dy": 3, "baseline": "middle", "color": "#000000"}, "encoding": {"y": {"field": "ys", "type": "quantitative", "title": null, "axis": {"values": [0, 50, 100, 150], "labelOverlap": false, "labelFontSize": 8}}, "text": {"field": "star"}}}
               ]}
             ]},
            {"width": 90, "height": 108, "title": {"text": "CD4+T cells", "fontSize": 12.5, "offset": 3.4},
             "layer": [
              {"data": {"name": "bars"}, "transform": [{"filter": "datum.panel === 'C4'"}],
               "encoding": {
                 "x": {"field": "bar", "type": "nominal", "title": null, "scale": {"domain": ["CVID", "non-CVID"], "paddingInner": 0.36, "paddingOuter": 0.52, "align": 0.49}},
                 "y": {"field": "mean", "type": "quantitative", "title": null, "scale": {"domain": [0, 1000], "nice": false, "range": [108, 12]}, "axis": {"values": [0, 200, 400, 600, 800, 1000], "labelOverlap": false, "format": "d", "labelFontSize": 8}}},
               "layer": [
                 {"mark": "bar", "encoding": {"color": {"field": "group", "type": "nominal", "scale": {"domain": ["CVID", "non-CVID"], "range": ["#000000", "#666666"]}, "legend": {"orient": "none", "legendX": -16, "legendY": -46, "direction": "horizontal", "columns": 2, "title": "C", "titleOrient": "left", "titleFont": "Liberation Serif", "titleFontSize": 21, "titleFontWeight": "bold", "titleColor": "#000000", "titlePadding": 13, "titleBaseline": "line-top", "titleLineHeight": 21, "labelFont": "Liberation Sans", "labelFontSize": 14.5, "labelFontWeight": "bold", "labelColor": "#000000", "labelOffset": 5, "columnPadding": 35, "symbolType": "square", "symbolSize": 144, "symbolStrokeColor": "#000000", "symbolStrokeWidth": 1}}}},
                 {"mark": {"type": "rule", "color": "#333333", "strokeWidth": 1.2}, "encoding": {"y": {"field": "upper", "type": "quantitative", "title": null}, "y2": {"field": "mean"}}},
                 {"mark": {"type": "tick", "orient": "horizontal", "size": 13, "color": "#333333", "thickness": 1.2}, "encoding": {"y": {"field": "upper", "type": "quantitative", "title": null}}}
               ]}
             ]},
            {"width": 86, "height": 108, "title": {"text": "CD8+T cells", "fontSize": 12.5, "offset": 1.4},
             "layer": [
              {"data": {"name": "bars"}, "transform": [{"filter": "datum.panel === 'C5'"}],
               "encoding": {
                 "x": {"field": "bar", "type": "nominal", "title": null, "scale": {"domain": ["CVID", "non-CVID"], "paddingInner": 0.37, "paddingOuter": 0.41, "align": 0.59}},
                 "y": {"field": "mean", "type": "quantitative", "title": null, "scale": {"domain": [0, 800], "nice": false, "range": [108, 6]}, "axis": {"values": [0, 200, 400, 600, 800], "labelOverlap": false, "labelFontSize": 8}}},
               "layer": [
                 {"mark": "bar", "encoding": {"color": {"field": "group", "type": "nominal", "scale": {"domain": ["CVID", "non-CVID"], "range": ["#000000", "#666666"]}, "legend": {"orient": "none", "legendX": -16, "legendY": -46, "direction": "horizontal", "columns": 2, "title": "C", "titleOrient": "left", "titleFont": "Liberation Serif", "titleFontSize": 21, "titleFontWeight": "bold", "titleColor": "#000000", "titlePadding": 13, "titleBaseline": "line-top", "titleLineHeight": 21, "labelFont": "Liberation Sans", "labelFontSize": 14.5, "labelFontWeight": "bold", "labelColor": "#000000", "labelOffset": 5, "columnPadding": 35, "symbolType": "square", "symbolSize": 144, "symbolStrokeColor": "#000000", "symbolStrokeWidth": 1}}}},
                 {"mark": {"type": "rule", "color": "#333333", "strokeWidth": 1.2}, "encoding": {"y": {"field": "upper", "type": "quantitative", "title": null}, "y2": {"field": "mean"}}},
                 {"mark": {"type": "tick", "orient": "horizontal", "size": 13, "color": "#333333", "thickness": 1.2}, "encoding": {"y": {"field": "upper", "type": "quantitative", "title": null}}}
               ]},
              {"data": {"name": "sig"}, "transform": [{"filter": "datum.panel === 'C5'"}],
               "encoding": {"x": {"field": "left", "type": "nominal", "title": null}},
               "layer": [
                 {"mark": {"type": "rule", "color": "#000000", "strokeWidth": 1.3}, "encoding": {"x2": {"field": "right"}, "y": {"field": "yb", "type": "quantitative", "title": null, "axis": {"values": [0, 200, 400, 600, 800], "labelOverlap": false, "labelFontSize": 8}}}},
                 {"mark": {"type": "rule", "color": "#000000", "strokeWidth": 1.3}, "encoding": {"y": {"field": "yl", "type": "quantitative", "title": null, "axis": {"values": [0, 200, 400, 600, 800], "labelOverlap": false, "labelFontSize": 8}}, "y2": {"field": "yb"}}},
                 {"mark": {"type": "rule", "color": "#000000", "strokeWidth": 1.3}, "encoding": {"x": {"field": "right", "type": "nominal", "title": null}, "y": {"field": "yr", "type": "quantitative", "title": null, "axis": {"values": [0, 200, 400, 600, 800], "labelOverlap": false, "labelFontSize": 8}}, "y2": {"field": "yb"}}},
                 {"mark": {"type": "text", "fontSize": 13, "fontWeight": "bold", "dx": 17.5, "dy": 3, "baseline": "middle", "color": "#000000"}, "encoding": {"y": {"field": "ys", "type": "quantitative", "title": null, "axis": {"values": [0, 200, 400, 600, 800], "labelOverlap": false, "labelFontSize": 8}}, "text": {"field": "star"}}}
               ]}
             ]},
            {"width": 82, "height": 108, "title": {"text": "γδ T cells", "fontSize": 12.5, "offset": 1.5},
             "layer": [
              {"data": {"name": "bars"}, "transform": [{"filter": "datum.panel === 'C6'"}],
               "encoding": {
                 "x": {"field": "bar", "type": "nominal", "title": null, "scale": {"domain": ["CVID", "non-CVID"], "paddingInner": 0.37, "paddingOuter": 0.36, "align": 0.48}},
                 "y": {"field": "mean", "type": "quantitative", "title": null, "scale": {"domain": [0, 40], "nice": false, "range": [108, 6]}, "axis": {"values": [0, 10, 20, 30, 40], "labelOverlap": false, "labelFontSize": 8}}},
               "layer": [
                 {"mark": "bar", "encoding": {"color": {"field": "group", "type": "nominal", "scale": {"domain": ["CVID", "non-CVID"], "range": ["#000000", "#666666"]}, "legend": {"orient": "none", "legendX": -16, "legendY": -46, "direction": "horizontal", "columns": 2, "title": "C", "titleOrient": "left", "titleFont": "Liberation Serif", "titleFontSize": 21, "titleFontWeight": "bold", "titleColor": "#000000", "titlePadding": 13, "titleBaseline": "line-top", "titleLineHeight": 21, "labelFont": "Liberation Sans", "labelFontSize": 14.5, "labelFontWeight": "bold", "labelColor": "#000000", "labelOffset": 5, "columnPadding": 35, "symbolType": "square", "symbolSize": 144, "symbolStrokeColor": "#000000", "symbolStrokeWidth": 1}}}},
                 {"mark": {"type": "rule", "color": "#333333", "strokeWidth": 1.2}, "encoding": {"y": {"field": "upper", "type": "quantitative", "title": null}, "y2": {"field": "mean"}}},
                 {"mark": {"type": "tick", "orient": "horizontal", "size": 13, "color": "#333333", "thickness": 1.2}, "encoding": {"y": {"field": "upper", "type": "quantitative", "title": null}}}
               ]},
              {"data": {"name": "sig"}, "transform": [{"filter": "datum.panel === 'C6'"}],
               "encoding": {"x": {"field": "left", "type": "nominal", "title": null}},
               "layer": [
                 {"mark": {"type": "rule", "color": "#000000", "strokeWidth": 1.3}, "encoding": {"x2": {"field": "right"}, "y": {"field": "yb", "type": "quantitative", "title": null, "axis": {"values": [0, 10, 20, 30, 40], "labelOverlap": false, "labelFontSize": 8}}}},
                 {"mark": {"type": "rule", "color": "#000000", "strokeWidth": 1.3}, "encoding": {"y": {"field": "yl", "type": "quantitative", "title": null, "axis": {"values": [0, 10, 20, 30, 40], "labelOverlap": false, "labelFontSize": 8}}, "y2": {"field": "yb"}}},
                 {"mark": {"type": "rule", "color": "#000000", "strokeWidth": 1.3}, "encoding": {"x": {"field": "right", "type": "nominal", "title": null}, "y": {"field": "yr", "type": "quantitative", "title": null, "axis": {"values": [0, 10, 20, 30, 40], "labelOverlap": false, "labelFontSize": 8}}, "y2": {"field": "yb"}}},
                 {"mark": {"type": "text", "fontSize": 13, "fontWeight": "bold", "dx": 17.5, "dy": 3, "baseline": "middle", "color": "#000000"}, "encoding": {"y": {"field": "ys", "type": "quantitative", "title": null, "axis": {"values": [0, 10, 20, 30, 40], "labelOverlap": false, "labelFontSize": 8}}, "text": {"field": "star"}}}
               ]}
             ]}
          ]
        },
        {
          "spacing": 20,
          "bounds": "flush",
          "hconcat": [
            {"width": 1, "height": 111, "data": {"values": [{"k": 1}]},
             "encoding": {"x": {"datum": 0, "type": "quantitative", "scale": {"domain": [0, 1]}, "axis": null}},
             "layer": [
               {"mark": {"type": "rule", "color": "#000000", "strokeWidth": 3}, "encoding": {"y": {"datum": -0.072, "type": "quantitative", "scale": {"domain": [0, 1], "nice": false}, "axis": {"title": "% of lymphocytes", "labels": false, "ticks": false, "domain": false, "titleFontSize": 7.5, "titlePadding": 6}}, "y2": {"datum": 1.099}}},
               {"mark": {"type": "point", "shape": "triangle-up", "filled": true, "color": "#000000", "size": 80, "opacity": 1}, "encoding": {"y": {"datum": 1.099, "type": "quantitative"}}}
             ]},
            {"width": 76, "height": 111,
             "layer": [
              {"data": {"name": "bars"}, "transform": [{"filter": "datum.panel === 'D1'"}],
               "encoding": {
                 "x": {"field": "bar", "type": "nominal", "title": null, "scale": {"domain": ["CVID", "non-CVID"], "paddingInner": 0.33, "paddingOuter": 0.5, "align": 0.49}},
                 "y": {"field": "mean", "type": "quantitative", "title": null, "scale": {"domain": [0, 100], "nice": false, "range": [111, 0]}, "axis": {"values": [0, 20, 40, 60, 80, 100], "labelOverlap": false, "labelFontSize": 8}}},
               "layer": [
                 {"mark": "bar", "encoding": {"color": {"field": "group", "type": "nominal", "scale": {"domain": ["CVID", "non-CVID"], "range": ["#000000", "#666666"]}, "legend": {"orient": "none", "legendX": -16, "legendY": -46, "direction": "horizontal", "columns": 2, "title": "C", "titleOrient": "left", "titleFont": "Liberation Serif", "titleFontSize": 21, "titleFontWeight": "bold", "titleColor": "#000000", "titlePadding": 13, "titleBaseline": "line-top", "titleLineHeight": 21, "labelFont": "Liberation Sans", "labelFontSize": 14.5, "labelFontWeight": "bold", "labelColor": "#000000", "labelOffset": 5, "columnPadding": 35, "symbolType": "square", "symbolSize": 144, "symbolStrokeColor": "#000000", "symbolStrokeWidth": 1}}}},
                 {"mark": {"type": "rule", "color": "#333333", "strokeWidth": 1.2}, "encoding": {"y": {"field": "upper", "type": "quantitative", "title": null}, "y2": {"field": "mean"}}},
                 {"mark": {"type": "tick", "orient": "horizontal", "size": 12, "color": "#333333", "thickness": 1.2}, "encoding": {"y": {"field": "upper", "type": "quantitative", "title": null}}}
               ]}
             ]},
            {"width": 88, "height": 111,
             "layer": [
              {"data": {"name": "bars"}, "transform": [{"filter": "datum.panel === 'D2'"}],
               "encoding": {
                 "x": {"field": "bar", "type": "nominal", "title": null, "scale": {"domain": ["CVID", "non-CVID"], "paddingInner": 0.39, "paddingOuter": 0.42, "align": 0.57}},
                 "y": {"field": "mean", "type": "quantitative", "title": null, "scale": {"domain": [0, 15], "nice": false, "range": [111, 2]}, "axis": {"values": [0, 5, 10, 15], "labelOverlap": false, "labelFontSize": 8}}},
               "layer": [
                 {"mark": "bar", "encoding": {"color": {"field": "group", "type": "nominal", "scale": {"domain": ["CVID", "non-CVID"], "range": ["#000000", "#666666"]}, "legend": {"orient": "none", "legendX": -16, "legendY": -46, "direction": "horizontal", "columns": 2, "title": "C", "titleOrient": "left", "titleFont": "Liberation Serif", "titleFontSize": 21, "titleFontWeight": "bold", "titleColor": "#000000", "titlePadding": 13, "titleBaseline": "line-top", "titleLineHeight": 21, "labelFont": "Liberation Sans", "labelFontSize": 14.5, "labelFontWeight": "bold", "labelColor": "#000000", "labelOffset": 5, "columnPadding": 35, "symbolType": "square", "symbolSize": 144, "symbolStrokeColor": "#000000", "symbolStrokeWidth": 1}}}},
                 {"mark": {"type": "rule", "color": "#333333", "strokeWidth": 1.2}, "encoding": {"y": {"field": "upper", "type": "quantitative", "title": null}, "y2": {"field": "mean"}}},
                 {"mark": {"type": "tick", "orient": "horizontal", "size": 13, "color": "#333333", "thickness": 1.2}, "encoding": {"y": {"field": "upper", "type": "quantitative", "title": null}}}
               ]}
             ]},
            {"width": 89, "height": 111,
             "layer": [
              {"data": {"name": "bars"}, "transform": [{"filter": "datum.panel === 'D3'"}],
               "encoding": {
                 "x": {"field": "bar", "type": "nominal", "title": null, "scale": {"domain": ["CVID", "non-CVID"], "paddingInner": 0.53, "paddingOuter": 0.26, "align": 0.39}},
                 "y": {"field": "mean", "type": "quantitative", "title": null, "scale": {"domain": [0, 5], "nice": false, "range": [111, 9]}, "axis": {"values": [0, 1, 2, 3, 4, 5], "labelOverlap": false, "labelFontSize": 8}}},
               "layer": [
                 {"mark": "bar", "encoding": {"color": {"field": "group", "type": "nominal", "scale": {"domain": ["CVID", "non-CVID"], "range": ["#000000", "#666666"]}, "legend": {"orient": "none", "legendX": -16, "legendY": -46, "direction": "horizontal", "columns": 2, "title": "C", "titleOrient": "left", "titleFont": "Liberation Serif", "titleFontSize": 21, "titleFontWeight": "bold", "titleColor": "#000000", "titlePadding": 13, "titleBaseline": "line-top", "titleLineHeight": 21, "labelFont": "Liberation Sans", "labelFontSize": 14.5, "labelFontWeight": "bold", "labelColor": "#000000", "labelOffset": 5, "columnPadding": 35, "symbolType": "square", "symbolSize": 144, "symbolStrokeColor": "#000000", "symbolStrokeWidth": 1}}}},
                 {"mark": {"type": "rule", "color": "#333333", "strokeWidth": 1.2}, "encoding": {"y": {"field": "upper", "type": "quantitative", "title": null}, "y2": {"field": "mean"}}},
                 {"mark": {"type": "tick", "orient": "horizontal", "size": 13, "color": "#333333", "thickness": 1.2}, "encoding": {"y": {"field": "upper", "type": "quantitative", "title": null}}}
               ]}
             ]},
            {"width": 1, "height": 111, "data": {"values": [{"k": 1}]},
             "encoding": {"x": {"datum": 0, "type": "quantitative", "scale": {"domain": [0, 1]}, "axis": null}},
             "layer": [
               {"mark": {"type": "rule", "color": "#000000", "strokeWidth": 3}, "encoding": {"y": {"datum": -0.09, "type": "quantitative", "scale": {"domain": [0, 1], "nice": false}, "axis": {"orient": "right", "title": "% of T cells", "labels": false, "ticks": false, "domain": false, "titleFontSize": 8.5, "titleAngle": 270, "titleBaseline": "top", "titlePadding": 2}}, "y2": {"datum": 1.126}}},
               {"mark": {"type": "point", "shape": "triangle-up", "filled": true, "color": "#000000", "size": 80, "opacity": 1}, "encoding": {"y": {"datum": 1.126, "type": "quantitative"}}}
             ]},
            {"width": 79, "height": 111,
             "layer": [
              {"data": {"name": "bars"}, "transform": [{"filter": "datum.panel === 'D4'"}],
               "encoding": {
                 "x": {"field": "bar", "type": "nominal", "title": null, "scale": {"domain": ["CVID", "non-CVID"], "paddingInner": 0.33, "paddingOuter": 0.48, "align": 0.48}},
                 "y": {"field": "mean", "type": "quantitative", "title": null, "scale": {"domain": [0, 80], "nice": false, "range": [111, 6]}, "axis": {"values": [0, 20, 40, 60, 80], "labelOverlap": false, "labelFontSize": 8}}},
               "layer": [
                 {"mark": "bar", "encoding": {"color": {"field": "group", "type": "nominal", "scale": {"domain": ["CVID", "non-CVID"], "range": ["#000000", "#666666"]}, "legend": {"orient": "none", "legendX": -16, "legendY": -46, "direction": "horizontal", "columns": 2, "title": "C", "titleOrient": "left", "titleFont": "Liberation Serif", "titleFontSize": 21, "titleFontWeight": "bold", "titleColor": "#000000", "titlePadding": 13, "titleBaseline": "line-top", "titleLineHeight": 21, "labelFont": "Liberation Sans", "labelFontSize": 14.5, "labelFontWeight": "bold", "labelColor": "#000000", "labelOffset": 5, "columnPadding": 35, "symbolType": "square", "symbolSize": 144, "symbolStrokeColor": "#000000", "symbolStrokeWidth": 1}}}},
                 {"mark": {"type": "rule", "color": "#333333", "strokeWidth": 1.2}, "encoding": {"y": {"field": "upper", "type": "quantitative", "title": null}, "y2": {"field": "mean"}}},
                 {"mark": {"type": "tick", "orient": "horizontal", "size": 12, "color": "#333333", "thickness": 1.2}, "encoding": {"y": {"field": "upper", "type": "quantitative", "title": null}}}
               ]},
              {"data": {"name": "sig"}, "transform": [{"filter": "datum.panel === 'D4'"}],
               "encoding": {"x": {"field": "left", "type": "nominal", "title": null}},
               "layer": [
                 {"mark": {"type": "rule", "color": "#000000", "strokeWidth": 1.3}, "encoding": {"x2": {"field": "right"}, "y": {"field": "yb", "type": "quantitative", "title": null, "axis": {"values": [0, 20, 40, 60, 80], "labelOverlap": false, "labelFontSize": 8}}}},
                 {"mark": {"type": "rule", "color": "#000000", "strokeWidth": 1.3}, "encoding": {"y": {"field": "yl", "type": "quantitative", "title": null, "axis": {"values": [0, 20, 40, 60, 80], "labelOverlap": false, "labelFontSize": 8}}, "y2": {"field": "yb"}}},
                 {"mark": {"type": "rule", "color": "#000000", "strokeWidth": 1.3}, "encoding": {"x": {"field": "right", "type": "nominal", "title": null}, "y": {"field": "yr", "type": "quantitative", "title": null, "axis": {"values": [0, 20, 40, 60, 80], "labelOverlap": false, "labelFontSize": 8}}, "y2": {"field": "yb"}}},
                 {"mark": {"type": "text", "fontSize": 12, "fontWeight": "bold", "dx": 15, "dy": 3, "baseline": "middle", "color": "#000000"}, "encoding": {"y": {"field": "ys", "type": "quantitative", "title": null, "axis": {"values": [0, 20, 40, 60, 80], "labelOverlap": false, "labelFontSize": 8}}, "text": {"field": "star"}}}
               ]}
             ]},
            {"width": 81, "height": 111,
             "layer": [
              {"data": {"name": "bars"}, "transform": [{"filter": "datum.panel === 'D5'"}],
               "encoding": {
                 "x": {"field": "bar", "type": "nominal", "title": null, "scale": {"domain": ["CVID", "non-CVID"], "paddingInner": 0.42, "paddingOuter": 0.33, "align": 0.63}},
                 "y": {"field": "mean", "type": "quantitative", "title": null, "scale": {"domain": [0, 50], "nice": false, "range": [111, 0]}, "axis": {"values": [0, 10, 20, 30, 40, 50], "labelOverlap": false, "labelFontSize": 8}}},
               "layer": [
                 {"mark": "bar", "encoding": {"color": {"field": "group", "type": "nominal", "scale": {"domain": ["CVID", "non-CVID"], "range": ["#000000", "#666666"]}, "legend": {"orient": "none", "legendX": -16, "legendY": -46, "direction": "horizontal", "columns": 2, "title": "C", "titleOrient": "left", "titleFont": "Liberation Serif", "titleFontSize": 21, "titleFontWeight": "bold", "titleColor": "#000000", "titlePadding": 13, "titleBaseline": "line-top", "titleLineHeight": 21, "labelFont": "Liberation Sans", "labelFontSize": 14.5, "labelFontWeight": "bold", "labelColor": "#000000", "labelOffset": 5, "columnPadding": 35, "symbolType": "square", "symbolSize": 144, "symbolStrokeColor": "#000000", "symbolStrokeWidth": 1}}}},
                 {"mark": {"type": "rule", "color": "#333333", "strokeWidth": 1.2}, "encoding": {"y": {"field": "upper", "type": "quantitative", "title": null}, "y2": {"field": "mean"}}},
                 {"mark": {"type": "tick", "orient": "horizontal", "size": 13, "color": "#333333", "thickness": 1.2}, "encoding": {"y": {"field": "upper", "type": "quantitative", "title": null}}}
               ]},
              {"data": {"name": "sig"}, "transform": [{"filter": "datum.panel === 'D5'"}],
               "encoding": {"x": {"field": "left", "type": "nominal", "title": null}},
               "layer": [
                 {"mark": {"type": "rule", "color": "#000000", "strokeWidth": 1.3}, "encoding": {"x2": {"field": "right"}, "y": {"field": "yb", "type": "quantitative", "title": null, "axis": {"values": [0, 10, 20, 30, 40, 50], "labelOverlap": false, "labelFontSize": 8}}}},
                 {"mark": {"type": "rule", "color": "#000000", "strokeWidth": 1.3}, "encoding": {"y": {"field": "yl", "type": "quantitative", "title": null, "axis": {"values": [0, 10, 20, 30, 40, 50], "labelOverlap": false, "labelFontSize": 8}}, "y2": {"field": "yb"}}},
                 {"mark": {"type": "rule", "color": "#000000", "strokeWidth": 1.3}, "encoding": {"x": {"field": "right", "type": "nominal", "title": null}, "y": {"field": "yr", "type": "quantitative", "title": null, "axis": {"values": [0, 10, 20, 30, 40, 50], "labelOverlap": false, "labelFontSize": 8}}, "y2": {"field": "yb"}}},
                 {"mark": {"type": "text", "fontSize": 12, "fontWeight": "bold", "dx": 18, "dy": 3, "baseline": "middle", "color": "#000000"}, "encoding": {"y": {"field": "ys", "type": "quantitative", "title": null, "axis": {"values": [0, 10, 20, 30, 40, 50], "labelOverlap": false, "labelFontSize": 8}}, "text": {"field": "star"}}}
               ]}
             ]},
            {"width": 88, "height": 111,
             "layer": [
              {"data": {"name": "bars"}, "transform": [{"filter": "datum.panel === 'D6'"}],
               "encoding": {
                 "x": {"field": "bar", "type": "nominal", "title": null, "scale": {"domain": ["CVID", "non-CVID"], "paddingInner": 0.34, "paddingOuter": 0.43, "align": 0.57}},
                 "y": {"field": "mean", "type": "quantitative", "title": null, "scale": {"domain": [0, 3], "nice": false, "range": [111, 5]}, "axis": {"values": [0, 1, 2, 3], "labelOverlap": false, "labelFontSize": 8}}},
               "layer": [
                 {"mark": "bar", "encoding": {"color": {"field": "group", "type": "nominal", "scale": {"domain": ["CVID", "non-CVID"], "range": ["#000000", "#666666"]}, "legend": {"orient": "none", "legendX": -16, "legendY": -46, "direction": "horizontal", "columns": 2, "title": "C", "titleOrient": "left", "titleFont": "Liberation Serif", "titleFontSize": 21, "titleFontWeight": "bold", "titleColor": "#000000", "titlePadding": 13, "titleBaseline": "line-top", "titleLineHeight": 21, "labelFont": "Liberation Sans", "labelFontSize": 14.5, "labelFontWeight": "bold", "labelColor": "#000000", "labelOffset": 5, "columnPadding": 35, "symbolType": "square", "symbolSize": 144, "symbolStrokeColor": "#000000", "symbolStrokeWidth": 1}}}},
                 {"mark": {"type": "rule", "color": "#333333", "strokeWidth": 1.2}, "encoding": {"y": {"field": "upper", "type": "quantitative", "title": null}, "y2": {"field": "mean"}}},
                 {"mark": {"type": "tick", "orient": "horizontal", "size": 13, "color": "#333333", "thickness": 1.2}, "encoding": {"y": {"field": "upper", "type": "quantitative", "title": null}}}
               ]},
              {"data": {"name": "sig"}, "transform": [{"filter": "datum.panel === 'D6'"}],
               "encoding": {"x": {"field": "left", "type": "nominal", "title": null}},
               "layer": [
                 {"mark": {"type": "rule", "color": "#000000", "strokeWidth": 1.3}, "encoding": {"x2": {"field": "right"}, "y": {"field": "yb", "type": "quantitative", "title": null, "axis": {"values": [0, 1, 2, 3], "labelOverlap": false, "labelFontSize": 8}}}},
                 {"mark": {"type": "rule", "color": "#000000", "strokeWidth": 1.3}, "encoding": {"y": {"field": "yl", "type": "quantitative", "title": null, "axis": {"values": [0, 1, 2, 3], "labelOverlap": false, "labelFontSize": 8}}, "y2": {"field": "yb"}}},
                 {"mark": {"type": "rule", "color": "#000000", "strokeWidth": 1.3}, "encoding": {"x": {"field": "right", "type": "nominal", "title": null}, "y": {"field": "yr", "type": "quantitative", "title": null, "axis": {"values": [0, 1, 2, 3], "labelOverlap": false, "labelFontSize": 8}}, "y2": {"field": "yb"}}},
                 {"mark": {"type": "text", "fontSize": 12, "fontWeight": "bold", "dx": 17.5, "dy": 3, "baseline": "middle", "color": "#000000"}, "encoding": {"y": {"field": "ys", "type": "quantitative", "title": null, "axis": {"values": [0, 1, 2, 3], "labelOverlap": false, "labelFontSize": 8}}, "text": {"field": "star"}}}
               ]}
             ]}
          ]
        }
      ]
    }
  ]
}
